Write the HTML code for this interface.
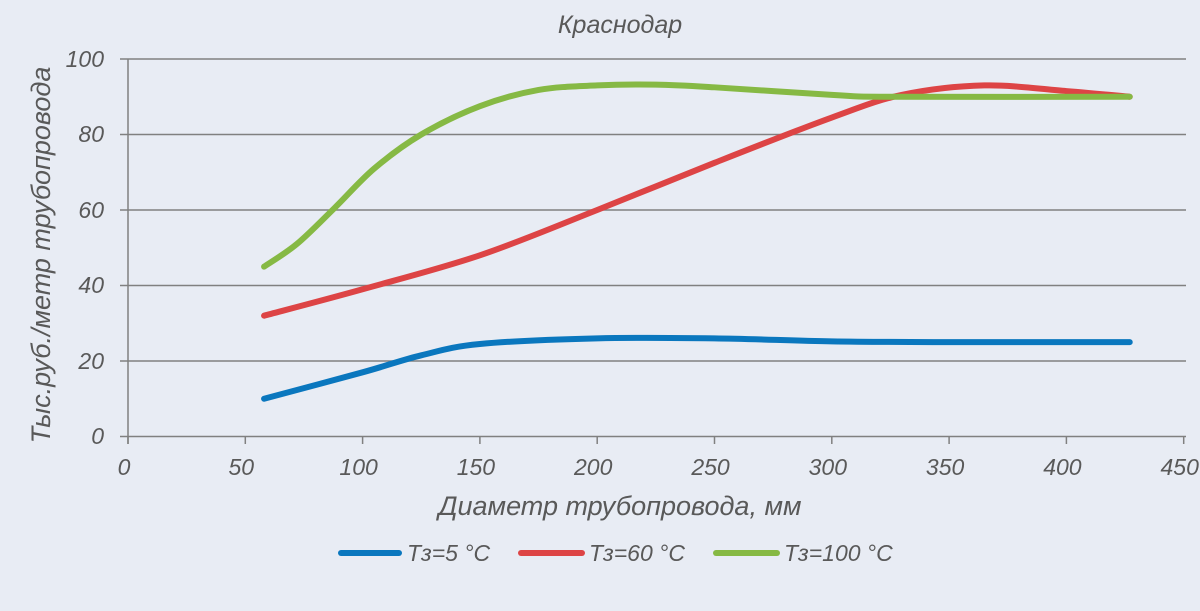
<!DOCTYPE html>
<html><head><meta charset="utf-8"><style>
html,body{margin:0;padding:0;background:#e8ecf4;}
svg{display:block;font-family:"Liberation Sans","DejaVu Sans",sans-serif;font-style:italic;fill:#595959;}
</style></head><body>
<svg id="s" width="1200" height="611" viewBox="0 0 1200 611">
<rect width="1200" height="611" fill="#e8ecf4"/>
<text x="620" y="33" font-size="25" text-anchor="middle">Краснодар</text>
<g stroke="#808080" stroke-width="1.5">
<line x1="120" y1="59" x2="1186" y2="59"/>
<line x1="120" y1="134.5" x2="1186" y2="134.5"/>
<line x1="120" y1="210" x2="1186" y2="210"/>
<line x1="120" y1="285.5" x2="1186" y2="285.5"/>
<line x1="120" y1="361" x2="1186" y2="361"/>
<line x1="120" y1="436.5" x2="1186" y2="436.5"/>
<line x1="128" y1="59" x2="128" y2="444"/>
</g>
<g id="xt" stroke="#808080" stroke-width="1.5"></g>
<g font-size="23" text-anchor="end">
<text x="104" y="67">100</text><text x="104" y="142">80</text><text x="104" y="218">60</text>
<text x="104" y="293">40</text><text x="104" y="369">20</text><text x="104" y="444">0</text>
</g>
<g id="xl" font-size="23" text-anchor="middle"></g>
<text x="620" y="515" font-size="27" text-anchor="middle">Диаметр трубопровода, мм</text>
<text transform="translate(50,255) rotate(-90)" font-size="27" text-anchor="middle">Тыс.руб./метр трубопровода</text>
<g id="c" fill="none" stroke-width="6" stroke-linecap="round"></g>
<g stroke-width="6" stroke-linecap="round">
<line x1="341" y1="553" x2="399" y2="553" stroke="#0a77be"/>
<line x1="521" y1="553" x2="582" y2="553" stroke="#dd4445"/>
<line x1="716" y1="553" x2="777" y2="553" stroke="#86b944"/>
</g>
<g font-size="23">
<text x="407" y="561">Tз=5 °C</text>
<text x="589" y="561">Tз=60 °C</text>
<text x="784" y="561">Tз=100 °C</text>
</g>
</svg>
<script>
var X=function(v){return 128+v*117.3/50},Y=function(v){return 436.5-v*3.775};
var xt=document.getElementById('xt'),xl=document.getElementById('xl'),ns='http://www.w3.org/2000/svg';
for(var i=0;i<=450;i+=50){var l=document.createElementNS(ns,'line');l.setAttribute('x1',X(i));l.setAttribute('x2',X(i));l.setAttribute('y1',436.5);l.setAttribute('y2',444);xt.appendChild(l);
var t=document.createElementNS(ns,'text');t.setAttribute('x',X(i)-4);t.setAttribute('y',475);t.textContent=i;xl.appendChild(t);}
var D=[["#0a77be",[[58,10],[100,17],[125,21.5],[150,24.5],[200,26],[250,26],[300,25.2],[350,25],[427,25]]],
["#dd4445",[[58,32],[100,39],[150,48],[200,60],[250,72.5],[300,84.5],[330,90.5],[365,93],[400,91.5],[427,90]]],
["#86b944",[[58,45],[72,51],[88,60.5],[105,71],[125,80],[150,87.5],[175,91.8],[200,93],[225,93.2],[250,92.5],[300,90.5],[325,90],[427,90]]]];
var c=document.getElementById('c');
D.forEach(function(s){var p=s[1].map(function(q){return [X(q[0]),Y(q[1])]});var d='M'+p[0];
for(var i=0;i<p.length-1;i++){var a=p[i-1]||p[i],b=p[i],e=p[i+1],f=p[i+2]||e;
d+=' C'+(b[0]+(e[0]-a[0])/6)+','+(b[1]+(e[1]-a[1])/6)+' '+(e[0]-(f[0]-b[0])/6)+','+(e[1]-(f[1]-b[1])/6)+' '+e;}
var el=document.createElementNS(ns,'path');el.setAttribute('d',d);el.setAttribute('stroke',s[0]);c.appendChild(el);});
</script>
</body></html>
